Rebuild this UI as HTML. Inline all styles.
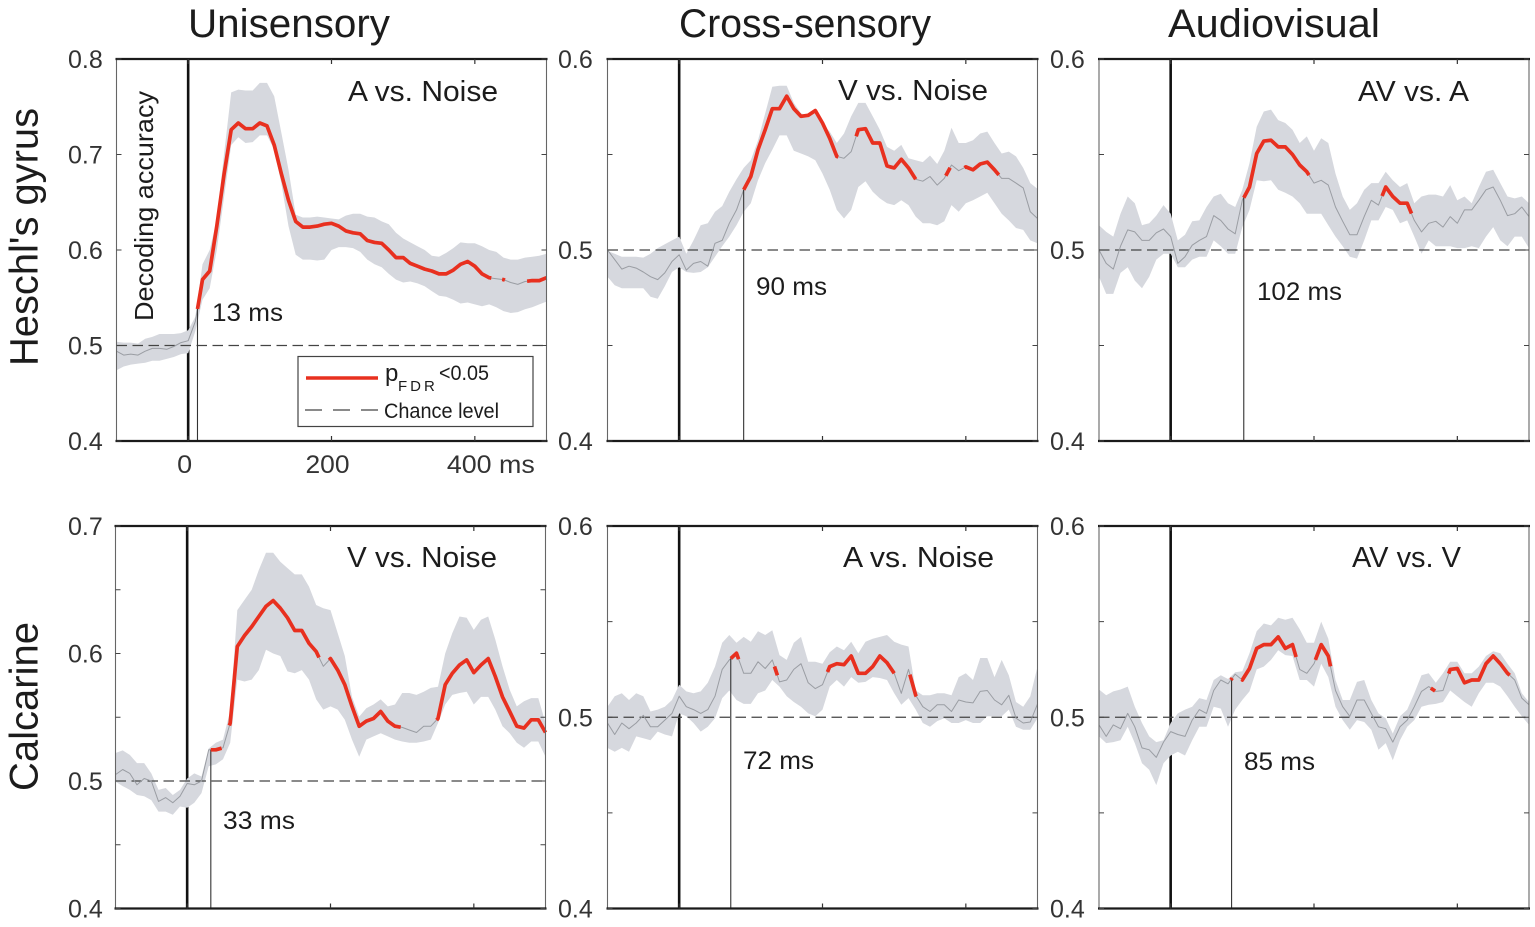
<!DOCTYPE html>
<html lang="en">
<head>
<meta charset="utf-8">
<title>Decoding accuracy over time</title>
<style>
  html, body { margin: 0; padding: 0; background: #fff; }
  svg { display: block; }
  text { font-family: "Liberation Sans", sans-serif; fill: #1c1c1c; }
  .tick-label { font-size: 25px; fill: #333; }
  .onset-label { font-size: 25px; }
  .panel-title { font-size: 29px; }
  .col-title { font-size: 40px; }
  .row-title { font-size: 40px; }
</style>
</head>
<body>
<svg id="fig" xmlns="http://www.w3.org/2000/svg" width="1535" height="927" viewBox="0 0 1535 927">
  <rect width="1535" height="927" fill="#fff"/>
  <g id="panels"></g>

  <text class="col-title" x="188" y="37" textLength="202" lengthAdjust="spacingAndGlyphs">Unisensory</text>
  <text class="col-title" x="679" y="37" textLength="252" lengthAdjust="spacingAndGlyphs">Cross-sensory</text>
  <text class="col-title" x="1168" y="37" textLength="212" lengthAdjust="spacingAndGlyphs">Audiovisual</text>

  <text class="row-title" transform="translate(37.5 366) rotate(-90)" textLength="258" lengthAdjust="spacingAndGlyphs">Heschl's gyrus</text>
  <text class="row-title" transform="translate(37.5 791) rotate(-90)" textLength="169" lengthAdjust="spacingAndGlyphs">Calcarine</text>

  <text transform="translate(153 321) rotate(-90)" font-size="26" textLength="230" lengthAdjust="spacingAndGlyphs">Decoding accuracy</text>

  <g>
    <rect x="298" y="356.5" width="235" height="70" fill="#fff" stroke="#444" stroke-width="1.2"/>
    <line x1="306" x2="378" y1="378" y2="378" stroke="#e8301f" stroke-width="3.6"/>
    <text x="385" y="381" font-size="24">p</text>
    <text x="398" y="391" font-size="15" letter-spacing="3">FDR</text>
    <text x="439" y="380" font-size="21" textLength="50" lengthAdjust="spacingAndGlyphs">&lt;0.05</text>
    <line x1="305" x2="378" y1="410" y2="410" stroke="#444" stroke-width="1.3" stroke-dasharray="17 11"/>
    <text x="384" y="418" font-size="21" textLength="115" lengthAdjust="spacingAndGlyphs">Chance level</text>
  </g>
</svg>

<script>
// Shared time base (ms)
const timesMs = [
-100,-90,-80,-70,-60,-50,-40,-30,-20,-10,
0,10,20,30,40,50,60,70,80,90,
100,110,120,130,140,150,160,170,180,190,
200,210,220,230,240,250,260,270,280,290,
300,310,320,330,340,350,360,370,380,390,
400,410,420,430,440,450,460,470,480,490,
500];
const xTickValues = [0, 200, 400];
const xTickLabels = ["0", "200", "400 ms"];
const chanceLevel = 0.5;

// Heschl's gyrus, A vs. Noise
const meanHgUni = [
.494,.490,.491,.490,.494,.497,.497,.496,.499,.503,
.505,.525,.569,.578,.625,.679,.726,.733,.727,.727,
.733,.730,.710,.680,.652,.630,.624,.624,.625,.627,
.628,.625,.620,.618,.617,.610,.608,.607,.600,.592,
.592,.586,.583,.580,.578,.575,.575,.579,.585,.588,
.583,.575,.571,.570,.569,.566,.564,.567,.568,.568,
.571];
const upperHgUni = [
.504,.503,.503,.502,.507,.509,.512,.512,.512,.513,
.516,.530,.585,.600,.632,.700,.765,.768,.767,.767,
.775,.775,.761,.723,.684,.637,.634,.634,.635,.634,
.633,.632,.636,.638,.638,.635,.634,.630,.627,.618,
.612,.608,.604,.600,.594,.593,.597,.602,.608,.607,
.607,.604,.600,.598,.592,.590,.590,.592,.593,.594,
.596];
const lowerHgUni = [
.474,.478,.480,.481,.482,.484,.484,.486,.488,.491,
.492,.515,.548,.560,.600,.655,.710,.718,.712,.713,
.720,.720,.705,.670,.625,.595,.590,.590,.589,.590,
.600,.603,.603,.602,.598,.590,.585,.582,.575,.569,
.566,.567,.565,.562,.557,.552,.551,.548,.544,.545,
.543,.541,.543,.540,.536,.534,.535,.538,.540,.543,
.546];
const sigHgUni = [[13,423],[438,442],[473,500]];

// Heschl's gyrus, V vs. Noise
const meanHgCross = [
.500,.495,.490,.4915,.4905,.4885,.486,.4845,.488,.494,
.4975,.4895,.493,.494,.4915,.5035,.505,.514,.521,.5315,
.5385,.5525,.563,.574,.574,.5805,.574,.570,.5705,.573,
.5665,.5585,.549,.548,.5515,.563,.5635,.556,.556,.544,
.543,.5475,.543,.537,.536,.5385,.534,.5375,.5445,.5415,
.5435,.542,.545,.546,.542,.5375,.5375,.535,.5325,.520,
.5165];
const upperHgCross = [
.4995,.498,.4965,.4965,.4965,.496,.498,.501,.503,.505,
.507,.498,.505,.513,.514,.520,.523,.5305,.537,.543,
.547,.5575,.5715,.5855,.586,.586,.577,.5715,.5705,.573,
.566,.562,.556,.561,.570,.577,.577,.570,.563,.554,
.552,.555,.548,.547,.546,.5495,.545,.552,.564,.556,
.556,.5575,.561,.562,.556,.5505,.5515,.549,.543,.535,
.532];
const lowerHgCross = [
.486,.4815,.480,.480,.480,.480,.4755,.4745,.481,.4885,
.491,.4885,.488,.4885,.491,.4965,.502,.507,.513,.520,
.5245,.5365,.5455,.5525,.560,.560,.552,.5505,.549,.547,
.540,.5315,.521,.5165,.521,.533,.536,.5305,.527,.5245,
.5235,.526,.5235,.5175,.514,.514,.513,.515,.5235,.520,
.5245,.526,.528,.530,.5245,.519,.5155,.5115,.5105,.505,
.5035];
const sigHgCross = [[90,222],[247,330],[372,378],[398,446]];

// Heschl's gyrus, AV vs. A
const meanHgAv = [
.500,.493,.490,.502,.5105,.5095,.505,.505,.509,.511,
.507,.493,.4965,.5025,.505,.507,.518,.5155,.511,.5085,
.526,.533,.5505,.557,.5575,.554,.554,.550,.5445,.541,
.535,.5365,.534,.5225,.515,.508,.508,.5175,.526,.5235,
.533,.528,.5245,.5245,.5155,.5095,.514,.515,.512,.5175,
.514,.521,.521,.526,.5315,.533,.526,.518,.519,.5225,
.5175];
const upperHgAv = [
.513,.5095,.507,.519,.528,.5245,.513,.514,.518,.5235,
.519,.505,.508,.515,.5155,.5225,.528,.5295,.5245,.5225,
.5315,.5455,.5645,.5725,.5735,.568,.5665,.563,.556,.5595,
.552,.5585,.556,.540,.528,.521,.5245,.5315,.535,.535,
.541,.5365,.533,.535,.5245,.528,.529,.529,.528,.534,
.526,.528,.5245,.533,.541,.542,.535,.528,.527,.528,
.5245];
const lowerHgAv = [
.486,.477,.477,.488,.491,.484,.480,.486,.495,.498,
.498,.491,.491,.495,.4965,.4965,.505,.502,.498,.498,
.512,.521,.5365,.536,.5365,.5315,.530,.528,.5245,.519,
.519,.519,.513,.507,.502,.4965,.4955,.505,.5155,.5155,
.5225,.521,.514,.5155,.507,.498,.505,.502,.502,.502,
.501,.501,.502,.501,.507,.512,.505,.502,.507,.507,
.501];
const sigHgAv = [[102,193],[295,336]];

// Calcarine, V vs. Noise
const meanCalUni = [
.505,.509,.506,.497,.502,.500,.484,.487,.483,.488,
.498,.497,.500,.5245,.5245,.526,.5455,.6055,.614,.621,
.629,.637,.6415,.6355,.628,.618,.618,.608,.6015,.590,
.596,.587,.5755,.5585,.543,.547,.549,.5545,.547,.543,
.542,.540,.538,.543,.543,.549,.5755,.5845,.591,.595,
.585,.591,.596,.582,.566,.5545,.543,.5415,.548,.548,
.538];
const upperCalUni = [
.522,.524,.5205,.514,.514,.506,.493,.4945,.489,.493,
.502,.506,.5035,.5255,.530,.5325,.555,.634,.642,.650,
.6655,.679,.679,.672,.667,.662,.662,.6525,.638,.6355,
.634,.616,.598,.566,.5505,.557,.560,.564,.5585,.560,
.569,.569,.5675,.570,.573,.574,.600,.616,.629,.628,
.6185,.6265,.629,.611,.590,.5715,.5585,.5625,.565,.565,
.5455];
const lowerCalUni = [
.4995,.496,.493,.489,.488,.485,.476,.476,.4735,.480,
.479,.483,.4905,.5115,.513,.517,.530,.5795,.578,.5795,
.587,.603,.600,.598,.586,.5845,.587,.5795,.564,.556,
.5585,.556,.548,.5325,.519,.5325,.535,.5375,.535,.5325,
.531,.530,.530,.531,.5325,.5455,.560,.5675,.569,.570,
.560,.566,.566,.556,.543,.5375,.530,.526,.531,.531,
.519];
const sigCalUni = [[33,48],[59,184],[198,298],[348,500]];

// Calcarine, A vs. Noise
const meanCalCross = [
.497,.491,.497,.494,.497,.501,.495,.495,.4985,.502,
.511,.5055,.504,.502,.504,.511,.525,.530,.5335,.523,
.523,.529,.5255,.530,.5185,.5195,.525,.528,.518,.515,
.517,.5265,.528,.5275,.532,.523,.523,.5265,.532,.5285,
.523,.5125,.525,.5115,.5055,.503,.5065,.5065,.503,.509,
.508,.5075,.5135,.514,.509,.5065,.5115,.4995,.497,.4975,
.507];
const upperCalCross = [
.5055,.511,.5125,.509,.5125,.511,.503,.504,.5055,.509,
.517,.5135,.5125,.5135,.518,.5265,.539,.543,.539,.542,
.5395,.545,.543,.5455,.5325,.530,.539,.542,.529,.529,
.528,.534,.537,.535,.5395,.5335,.5395,.541,.542,.543,
.5395,.538,.537,.514,.5115,.5115,.5125,.5125,.5115,.521,
.523,.5195,.531,.531,.521,.530,.522,.508,.5055,.511,
.5265];
const lowerCalCross = [
.484,.482,.484,.482,.490,.489,.488,.4925,.491,.490,
.502,.5005,.497,.4925,.495,.4995,.510,.514,.509,.507,
.507,.5125,.514,.5195,.516,.511,.508,.5055,.502,.5005,
.504,.516,.5195,.516,.521,.518,.5185,.521,.5205,.5195,
.5125,.5065,.510,.504,.497,.495,.498,.4995,.497,.497,
.4985,.497,.497,.5005,.5005,.5005,.504,.495,.4935,.4935,
.4995];
const sigCalCross = [[72,83],[133,137],[207,300],[322,331]];

// Calcarine, AV vs. V
const meanCalAv = [
.496,.490,.496,.494,.502,.495,.484,.483,.479,.487,
.4925,.491,.490,.4985,.504,.502,.514,.5195,.5175,.5225,
.5195,.5255,.536,.538,.538,.542,.536,.538,.525,.523,
.528,.538,.532,.514,.5055,.5005,.509,.509,.502,.495,
.494,.487,.495,.4985,.5055,.5135,.516,.5135,.514,.525,
.5255,.518,.5195,.5195,.528,.532,.528,.523,.5195,.510,
.5065];
const upperCalAv = [
.5145,.5115,.5135,.5145,.516,.5055,.497,.490,.487,.488,
.497,.502,.504,.5055,.510,.509,.5195,.522,.520,.5235,
.524,.5335,.545,.549,.548,.552,.551,.552,.546,.539,
.539,.550,.541,.5195,.509,.509,.5185,.5195,.509,.502,
.4995,.4915,.5005,.504,.5125,.522,.523,.518,.523,.529,
.529,.523,.523,.5265,.532,.5345,.5335,.528,.523,.5125,
.508];
const lowerCalAv = [
.490,.4865,.487,.488,.495,.4865,.476,.4725,.4645,.476,
.480,.482,.480,.488,.495,.495,.5055,.5045,.495,.504,
.509,.5135,.525,.5265,.530,.535,.5325,.532,.5195,.5195,
.516,.528,.521,.5055,.4985,.4935,.4985,.4975,.4935,.483,
.4865,.4775,.488,.495,.4985,.5055,.5065,.507,.508,.514,
.511,.508,.5055,.5125,.518,.518,.516,.511,.5055,.5005,
.496];
const sigCalAv = [[84,86],[99,175],[202,223],[363,369],[388,473]];

const panels = [
  {id:"heschl-unisensory", title:"A vs. Noise", onset:13, mean:meanHgUni, upper:upperHgUni, lower:lowerHgUni, sig:sigHgUni,
   yTicks:[.4,.5,.6,.7,.8], yLabels:["0.4","0.5","0.6","0.7","0.8"], yMin:.4, yMax:.8,
   box:{l:116.5,r:546.5,t:59,b:441}, labelX:68, titleX:348, titleY:101, titleW:150, onsetX:212, onsetY:321, onsetW:71, xLabels:true},
  {id:"heschl-cross-sensory", title:"V vs. Noise", onset:90, mean:meanHgCross, upper:upperHgCross, lower:lowerHgCross, sig:sigHgCross,
   yTicks:[.4,.45,.5,.55,.6], yLabels:["0.4","","0.5","","0.6"], yMin:.4, yMax:.6,
   box:{l:607.5,r:1037.5,t:59,b:441}, labelX:558, titleX:838, titleY:100, titleW:150, onsetX:756, onsetY:295, onsetW:71},
  {id:"heschl-audiovisual", title:"AV vs. A", onset:102, mean:meanHgAv, upper:upperHgAv, lower:lowerHgAv, sig:sigHgAv,
   yTicks:[.4,.45,.5,.55,.6], yLabels:["0.4","","0.5","","0.6"], yMin:.4, yMax:.6,
   box:{l:1099,r:1529,t:59,b:441}, labelX:1050, titleX:1358, titleY:101, titleW:111, onsetX:1257, onsetY:300, onsetW:85},
  {id:"calcarine-unisensory", title:"V vs. Noise", onset:33, mean:meanCalUni, upper:upperCalUni, lower:lowerCalUni, sig:sigCalUni,
   yTicks:[.4,.45,.5,.55,.6,.65,.7], yLabels:["0.4","","0.5","","0.6","","0.7"], yMin:.4, yMax:.7,
   box:{l:115.5,r:545.5,t:526,b:908.5}, labelX:68, titleX:347, titleY:567, titleW:150, onsetX:223, onsetY:829, onsetW:72},
  {id:"calcarine-cross-sensory", title:"A vs. Noise", onset:72, mean:meanCalCross, upper:upperCalCross, lower:lowerCalCross, sig:sigCalCross,
   yTicks:[.4,.45,.5,.55,.6], yLabels:["0.4","","0.5","","0.6"], yMin:.4, yMax:.6,
   box:{l:607.5,r:1037.5,t:526,b:908.5}, labelX:558, titleX:843, titleY:567, titleW:151, onsetX:743, onsetY:769, onsetW:71},
  {id:"calcarine-audiovisual", title:"AV vs. V", onset:85, mean:meanCalAv, upper:upperCalAv, lower:lowerCalAv, sig:sigCalAv,
   yTicks:[.4,.45,.5,.55,.6], yLabels:["0.4","","0.5","","0.6"], yMin:.4, yMax:.6,
   box:{l:1099,r:1529,t:526,b:908.5}, labelX:1050, titleX:1352, titleY:567, titleW:109, onsetX:1244, onsetY:770, onsetW:71}
];

const NS = "http://www.w3.org/2000/svg";
const root = document.getElementById("panels");

function mk(parent, tag, attrs, text) {
  const el = document.createElementNS(NS, tag);
  for (const k in attrs) el.setAttribute(k, attrs[k]);
  if (text !== undefined) el.textContent = text;
  parent.appendChild(el);
  return el;
}
function interp(series, ms) {
  const n = timesMs.length;
  if (ms <= timesMs[0]) return series[0];
  if (ms >= timesMs[n - 1]) return series[n - 1];
  for (let i = 1; i < n; i++) {
    if (ms <= timesMs[i]) {
      const f = (ms - timesMs[i - 1]) / (timesMs[i] - timesMs[i - 1]);
      return series[i - 1] + f * (series[i] - series[i - 1]);
    }
  }
}

panels.forEach(function (p) {
  const b = p.box;
  const xAxis = function (ms) { return b.l + (ms + 100) / 600 * (b.r - b.l); };
  const yAxis = function (v) { return b.b - (v - p.yMin) / (p.yMax - p.yMin) * (b.b - b.t); };
  const pt = function (ms, v) { return xAxis(ms).toFixed(1) + "," + yAxis(v).toFixed(1); };

  const g = mk(root, "g", {});
  
  

  // stimulus-onset line sits under the band
  const zero = mk(g, "line", {x1:xAxis(0), x2:xAxis(0), y1:b.t, y2:b.b, stroke:"#111", "stroke-width":2.6});
  
  

  // error band
  const top = timesMs.map(function (t, i) { return pt(t, p.upper[i]); });
  const bot = timesMs.map(function (t, i) { return pt(t, p.lower[i]); }).reverse();
  const band = mk(g, "polygon", {points: top.concat(bot).join(" "), fill:"#d6d8de"});
  
  

  // chance level
  const chance = mk(g, "line", {x1:b.l, x2:b.r, y1:yAxis(chanceLevel), y2:yAxis(chanceLevel), stroke:"#444", "stroke-width":1.3, "stroke-dasharray":"10.5 5.5"});
  
  

  // mean accuracy
  const mean = mk(g, "polyline", {points: timesMs.map(function (t, i) { return pt(t, p.mean[i]); }).join(" "), fill:"none", stroke:"#9a9da3", "stroke-width":1, "stroke-linejoin":"round"});
  
  

  // first-significant latency marker
  const on = mk(g, "line", {x1:xAxis(p.onset), x2:xAxis(p.onset), y1:yAxis(interp(p.mean, p.onset)), y2:b.b, stroke:"#333", "stroke-width":1.1});
  
  

  // significant segments
  p.sig.forEach(function (range) {
    const pts = [pt(range[0], interp(p.mean, range[0]))];
    timesMs.forEach(function (t, i) {
      if (t > range[0] && t < range[1]) pts.push(pt(t, p.mean[i]));
    });
    pts.push(pt(range[1], interp(p.mean, range[1])));
    const seg = mk(g, "polyline", {points: pts.join(" "), fill:"none", stroke:"#e8301f", "stroke-width":3.7, "stroke-linejoin":"round"});
    
    
  });

  // frame
  [[b.l,b.t,b.l,b.b,"#666",1.1],[b.r,b.t,b.r,b.b,"#666",1.1],[b.l-1,b.t,b.r+1,b.t,"#1a1a1a",2.3],[b.l-1,b.b,b.r+1,b.b,"#1a1a1a",2.3]].forEach(function (s) {
    const ln = mk(g, "line", {x1:s[0], y1:s[1], x2:s[2], y2:s[3], stroke:s[4], "stroke-width":s[5]});
    
    
  });

  // y ticks and labels
  p.yTicks.forEach(function (v, i) {
    const y = yAxis(v);
    [[b.l, b.l + 5], [b.r - 5, b.r]].forEach(function (s) {
      const tk = mk(g, "line", {x1:s[0], x2:s[1], y1:y, y2:y, stroke:"#444", "stroke-width":1});
      
      
    });
    if (p.yLabels[i]) {
      const lb = mk(g, "text", {x:p.labelX, y:y + 9, "class":"tick-label"}, p.yLabels[i]);
      
      
    }
  });

  // x ticks and labels
  xTickValues.forEach(function (ms, i) {
    const x = xAxis(ms);
    [[b.t, b.t + 5], [b.b - 5, b.b]].forEach(function (s) {
      const tk = mk(g, "line", {x1:x, x2:x, y1:s[0], y2:s[1], stroke:"#333", "stroke-width":1.2});
      
      
    });
    if (p.xLabels) {
      const offset = i === 0 ? 11 : (i === 1 ? 26 : 28);
      const width = i === 0 ? 15 : (i === 1 ? 44 : 88);
      const lb = mk(g, "text", {x: x - offset, y:473, "class":"tick-label", textLength:width, lengthAdjust:"spacingAndGlyphs"}, xTickLabels[i]);
      
      
    }
  });

  // texts
  const ttl = mk(g, "text", {x:p.titleX, y:p.titleY, "class":"panel-title", textLength:p.titleW, lengthAdjust:"spacingAndGlyphs"}, p.title);
  
  

  const ol = mk(g, "text", {x:p.onsetX, y:p.onsetY, "class":"onset-label", textLength:p.onsetW, lengthAdjust:"spacingAndGlyphs"}, p.onset + " ms");
  
  
});
</script>
</body>
</html>
